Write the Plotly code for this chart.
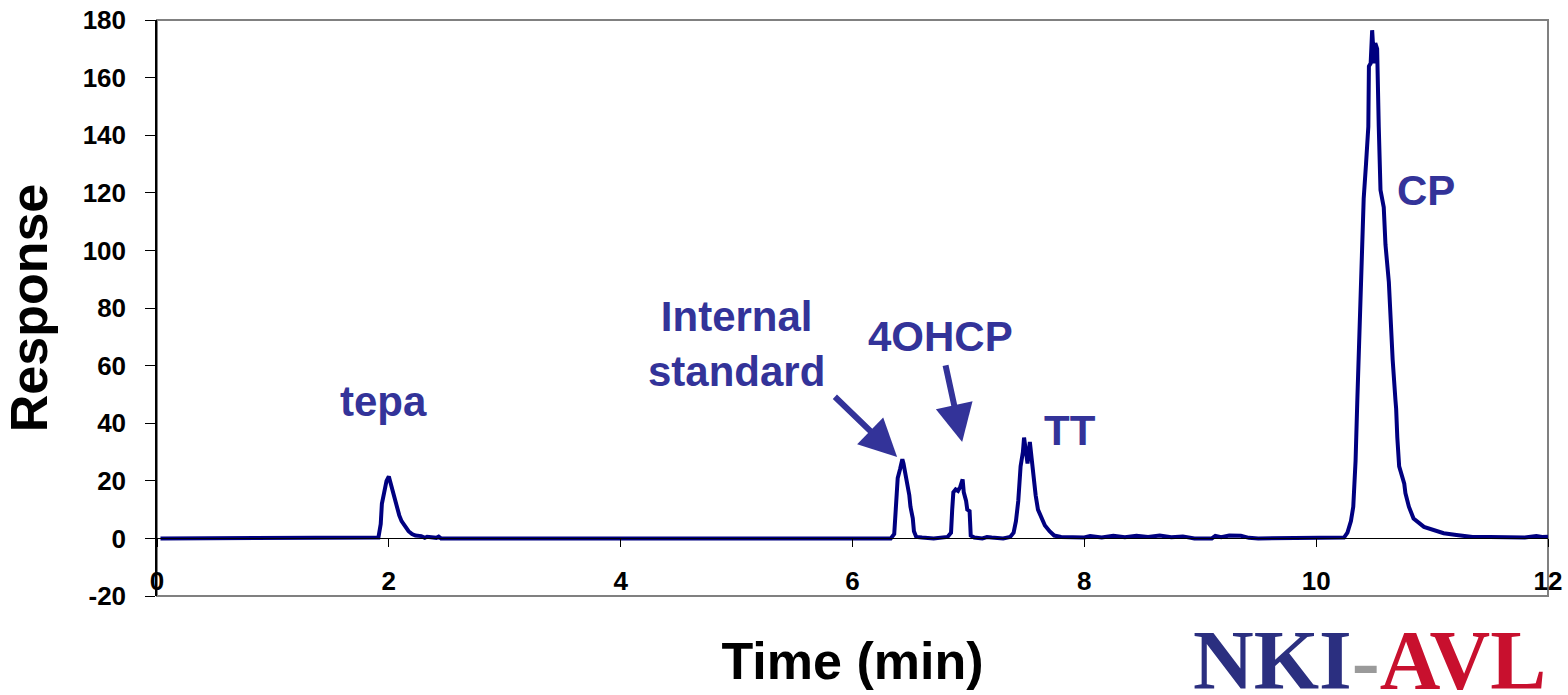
import plotly.graph_objects as go

# ---- data ----
time_min = [
    0.03, 1.00, 1.90,
    1.91, 1.93, 1.94, 1.96, 1.98, 2.00, 2.01, 2.03, 2.05, 2.07, 2.09, 2.11, 2.14, 2.17, 2.20, 2.23, 2.28, 2.31, 2.33, 2.36, 2.41, 2.43, 2.45,
    4.00, 6.33,
    6.36, 6.37, 6.38, 6.39, 6.41, 6.43, 6.44, 6.46, 6.47, 6.49, 6.50, 6.52, 6.53, 6.55, 6.60, 6.70, 6.82, 6.85,
    6.86, 6.87, 6.89, 6.91, 6.93, 6.95, 6.96, 6.98, 6.99, 7.01, 7.02, 7.05, 7.12, 7.16, 7.20, 7.30, 7.36, 7.39,
    7.41, 7.43, 7.45, 7.47, 7.48, 7.50, 7.51, 7.53, 7.54, 7.56, 7.58, 7.60, 7.63, 7.66, 7.70, 7.74, 7.80, 7.90, 8.00,
    8.05, 8.15, 8.25, 8.35, 8.45, 8.55, 8.65, 8.75, 8.85, 8.95, 9.10, 9.13, 9.18, 9.25, 9.35, 9.42, 9.50, 10.20,
    10.24, 10.27, 10.30, 10.32, 10.34, 10.355, 10.37, 10.383, 10.40, 10.41, 10.43, 10.45, 10.455, 10.47, 10.483,
    10.49, 10.50, 10.51, 10.526, 10.54, 10.555, 10.583, 10.598, 10.627, 10.64, 10.66, 10.684, 10.69, 10.70, 10.716,
    10.76, 10.77, 10.80, 10.84, 10.93, 11.01, 11.10, 11.21, 11.35, 11.50, 11.70, 11.80, 11.90, 11.95, 12.00,
]
response = [
    0.0, 0.0, 0.0,
    0.3, 5.0, 12.0, 16.0, 20.0, 21.5, 20.0, 16.0, 14.0, 11.0, 8.0, 6.0, 4.0, 2.5, 1.5, 1.0, 0.8, 0.2, 0.6, 0.5, 0.2, 0.6, 0.0,
    0.0, 0.0,
    1.5, 8.0, 18.0, 21.0, 24.0, 27.5, 26.0, 22.0, 19.0, 15.0, 11.0, 7.0, 2.5, 0.5, 0.3, 0.0, 0.5, 2.0,
    10.0, 16.0, 17.0, 16.5, 18.0, 20.5, 16.0, 13.0, 10.0, 9.5, 1.0, 0.3, 0.0, 0.5, 0.3, 0.0, 0.5, 2.0,
    6.0, 13.0, 25.0, 30.0, 35.0, 29.0, 26.0, 33.5, 30.0, 20.0, 15.0, 10.0, 7.0, 4.5, 2.5, 1.0, 0.5, 0.4, 0.3,
    0.8, 0.3, 0.9, 0.4, 0.9, 0.5, 1.0, 0.4, 0.7, 0.0, 0.0, 0.9, 0.4, 1.0, 0.9, 0.2, 0.0, 0.0,
    0.3, 2.0, 6.0, 11.0, 27.0, 48.0, 65.0, 83.0, 97.0, 118.0, 130.0, 143.0, 164.0, 165.0, 176.5,
    170.0, 165.0, 172.0, 170.0, 143.0, 121.0, 115.0, 102.0, 89.0, 78.0, 62.0, 48.0, 45.0, 35.0, 25.0,
    19.0, 15.7, 11.0, 6.9, 4.0, 3.0, 1.8, 1.2, 0.5, 0.5, 0.6, 0.3, 0.8, 0.5, 0.6,
]

x_tick_vals = [0, 2, 4, 6, 8, 10, 12]
x_tick_text = ["0", "2", "4", "6", "8", "10", "12"]
y_tick_vals = [-20, 0, 20, 40, 60, 80, 100, 120, 140, 160, 180]
y_tick_text = ["-20", "0", "20", "40", "60", "80", "100", "120", "140", "160", "180"]

peak_labels = ["tepa", "Internal<br>standard", "4OHCP", "TT", "CP"]
peak_label_x = [1.95, 5.00, 6.76, 7.88, 10.945]
peak_label_y = [47.5, 67.5, 70.0, 37.6, 120.9]

# arrows: (tip x, tip y, tail x, tail y) in data units
arrow_tip_x = [6.385, 6.946]
arrow_tip_y = [28.3, 33.5]
arrow_tail_x = [5.835, 6.80]
arrow_tail_y = [49.7, 60.6]

LINE_COLOR = "#000080"
LABEL_COLOR = "#333399"
FONT = "Arial, Liberation Sans, sans-serif"

fig = go.Figure()
fig.add_trace(go.Scatter(
    x=time_min, y=response, mode="lines",
    line=dict(color=LINE_COLOR, width=4),
    showlegend=False, hoverinfo="skip",
))

for txt, lx, ly in zip(peak_labels, peak_label_x, peak_label_y):
    fig.add_annotation(
        x=lx, y=ly, xref="x", yref="y", text="<b>" + txt + "</b>",
        showarrow=False, font=dict(family=FONT, size=42, color=LABEL_COLOR),
        align="center", xanchor="center", yanchor="middle",
    )

for tx, ty, sx, sy in zip(arrow_tip_x, arrow_tip_y, arrow_tail_x, arrow_tail_y):
    fig.add_annotation(
        x=tx, y=ty, ax=sx, ay=sy, xref="x", yref="y", axref="x", ayref="y",
        text="", showarrow=True, arrowhead=2, arrowsize=1.25, arrowwidth=6,
        arrowcolor=LABEL_COLOR,
    )

# logo text
fig.add_annotation(
    xref="paper", yref="paper", x=1.0, y=-0.028, xanchor="right", yanchor="top",
    text='<span style="color:#2b2f80">NKI</span><span style="color:#9a9a9a">-</span>'
         '<span style="color:#c8102e">AVL</span>',
    showarrow=False, font=dict(family="Liberation Serif, Times New Roman, serif", size=84, weight="bold"),
)

# plot frame (top, bottom, right in grey)
fig.add_shape(type="rect", xref="paper", yref="paper", x0=0, x1=1, y0=0, y1=1,
              line=dict(color="#808080", width=2), layer="below")

fig.update_layout(
    width=1568, height=695,
    margin=dict(l=157, r=20, t=20, b=99),
    paper_bgcolor="white", plot_bgcolor="white",
    font=dict(family=FONT, color="black"),
    xaxis=dict(
        range=[0, 12], anchor="free", position=0.1, automargin=False,
        showline=True, linecolor="black", linewidth=1,
        ticks="outside", ticklen=8, tickcolor="black",
        tickvals=x_tick_vals, ticktext=x_tick_text,
        tickfont=dict(size=26, family=FONT, color="black", weight="bold"),
        ticklabelstandoff=11, ticklabeloverflow="allow",
        showgrid=False, zeroline=False,
        title=dict(text="<b>Time (min)</b>", font=dict(size=52, family=FONT, color="black"), standoff=48),
    ),
    yaxis=dict(
        range=[-20, 180.05], automargin=False,
        showline=True, linecolor="black", linewidth=1.5,
        ticks="outside", ticklen=10, tickcolor="black",
        tickvals=y_tick_vals, ticktext=y_tick_text,
        tickfont=dict(size=26, family=FONT, color="black", weight="bold"),
        ticklabelstandoff=14, ticklabeloverflow="allow",
        showgrid=False, zeroline=False,
        title=dict(text="<b>Response</b>", font=dict(size=52, family=FONT, color="black"), standoff=18),
    ),
)

# remove the default 8px page margin so the figure fills the window exactly
fig.write_html("out.html", config={"displayModeBar": False},
               post_script="document.body.style.margin='0';")
